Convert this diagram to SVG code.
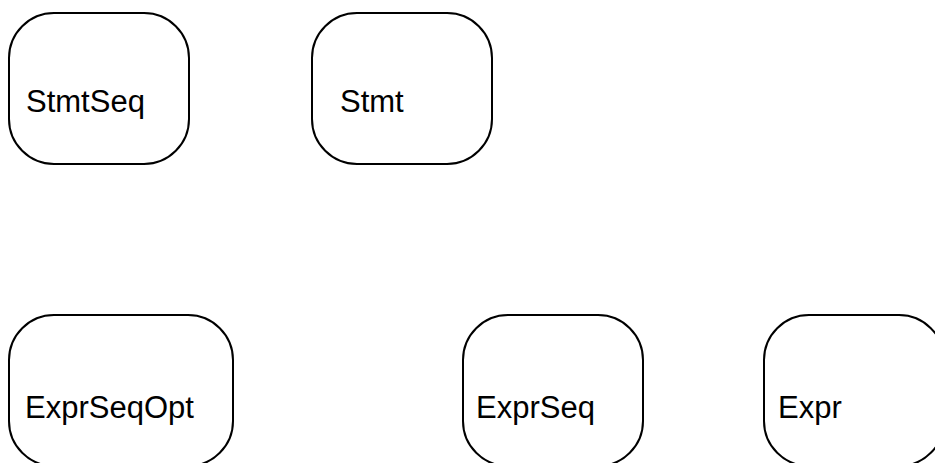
<svg xmlns="http://www.w3.org/2000/svg" width="935" height="463" viewBox="0 0 935 463">
  <style>
    .node rect { fill: #ffffff; stroke: #000000; stroke-width: 2; }
    .node text { font-family: "Liberation Sans", Arial, sans-serif; font-size: 31px; fill: #000000; }
  </style>
  <rect x="0" y="0" width="935" height="463" fill="#ffffff"/>
  <g id="connectors"></g>
  <g id="StmtSeq" class="node">
    <rect x="9" y="13" width="180" height="151" rx="45" ry="45"/>
    <text x="26" y="112">StmtSeq</text>
  </g>
  <g id="Stmt" class="node">
    <rect x="312" y="13" width="180" height="151" rx="45" ry="45"/>
    <text x="340" y="112">Stmt</text>
  </g>
  <g id="ExprSeqOpt" class="node">
    <rect x="9" y="315" width="224" height="151" rx="45" ry="45"/>
    <text x="25" y="418">ExprSeqOpt</text>
  </g>
  <g id="ExprSeq" class="node">
    <rect x="463" y="315" width="180" height="151" rx="45" ry="45"/>
    <text x="476" y="418">ExprSeq</text>
  </g>
  <g id="Expr" class="node">
    <rect x="764" y="315" width="180" height="151" rx="45" ry="45"/>
    <text x="778" y="418">Expr</text>
  </g>
</svg>
